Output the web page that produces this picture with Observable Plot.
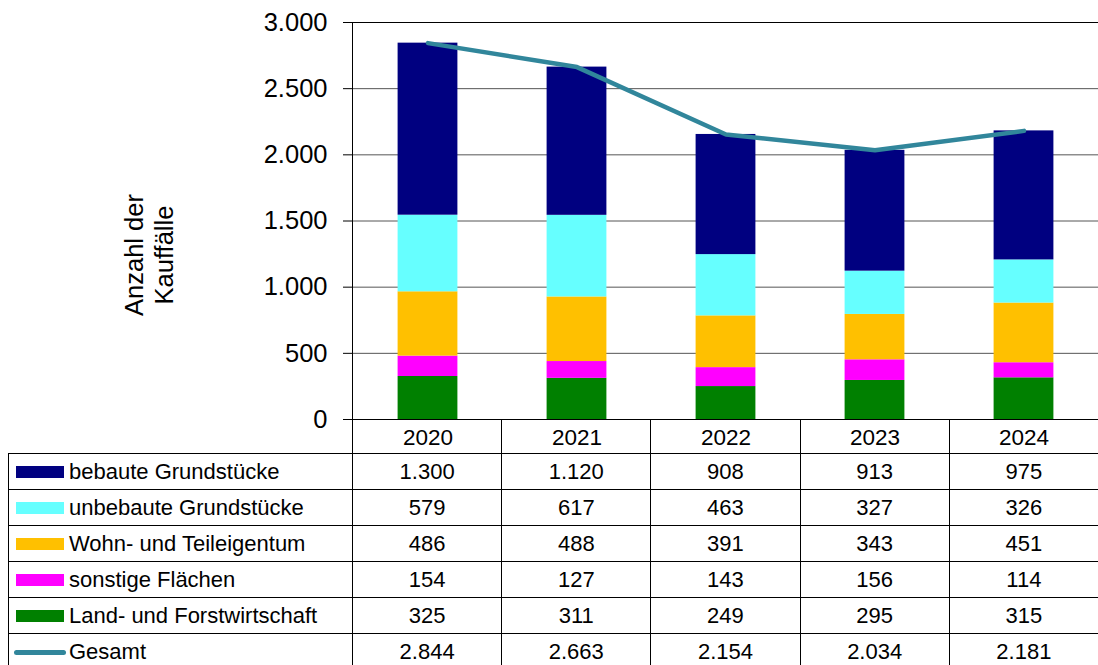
<!DOCTYPE html>
<html>
<head>
<meta charset="utf-8">
<script src="https://cdn.jsdelivr.net/npm/d3@7"></script>
<script src="https://cdn.jsdelivr.net/npm/@observablehq/plot@0.6"></script>
<style>
  html, body { margin: 0; padding: 0; background: #fff; overflow: hidden; }
  body { width: 1098px; height: 665px; position: relative; font-family: "Liberation Sans", Arial, sans-serif; }
  #chart { position: absolute; left: 0; top: 0; }
  #chart svg [aria-label^="x-axis"] text { font-size: 22.5px; }
  #chart svg [aria-label^="y-axis"] text { font-size: 25.5px; }
  table { position: absolute; left: 8px; top: 419px; border-collapse: collapse; table-layout: fixed; width: 1090px;
          font-family: "Liberation Sans", Arial, sans-serif; font-size: 22px; color: #000; }
  td { border: 1px solid #000; padding: 0; text-align: center; vertical-align: middle; white-space: nowrap; }
  tr.head td { border-top: none; height: 34px; }
  tr.head td.blank { border: none; border-bottom: 1px solid #000; border-right: 1px solid #000; }
  tr.row td { height: 35px; }
  td.lab { text-align: left; padding-left: 7px; }
  .sw { display: inline-block; width: 48px; height: 12px; margin-right: 5px; vertical-align: 1px; }
  .ln { display: inline-block; width: 52px; height: 5px; border-radius: 3px; margin-left: -2px; margin-right: 3px; vertical-align: 4px; }
</style>
</head>
<body>
<div id="chart"></div>
<script>
const years = ["2020", "2021", "2022", "2023", "2024"];
const seriesNames = ["bebaute Grundstücke", "unbebaute Grundstücke", "Wohn- und Teileigentum", "sonstige Flächen", "Land- und Forstwirtschaft"];
const seriesColors = ["#000080", "#66FFFF", "#FFC000", "#FF00FF", "#008000"];
const bebaute = [1300, 1120, 908, 913, 975];
const unbebaute = [579, 617, 463, 327, 326];
const wohn = [486, 488, 391, 343, 451];
const sonstige = [154, 127, 143, 156, 114];
const land = [325, 311, 249, 295, 315];
const gesamt = [2844, 2663, 2154, 2034, 2181];
const gesamtName = "Gesamt";
const gesamtColor = "#31869B";
const yTicks = [0, 500, 1000, 1500, 2000, 2500, 3000];
const yLabel = "Anzahl der\nKauffälle";

const seriesValues = [bebaute, unbebaute, wohn, sonstige, land];
const de = d3.formatLocale({decimal: ",", thousands: ".", grouping: [3], currency: ["", " €"]});
const fmt = de.format(",d");

// stacking order bottom -> top: Land, sonstige, Wohn, unbebaute, bebaute
const stackOrder = [4, 3, 2, 1, 0];
const barRows = [];
for (const si of stackOrder) {
  years.forEach((yr, i) => barRows.push({year: yr, series: seriesNames[si], value: seriesValues[si][i]}));
}
const lineRows = years.map((yr, i) => ({year: yr, value: gesamt[i]}));

const plot = Plot.plot({
  width: 1098,
  height: 454,
  marginLeft: 352,
  marginRight: 0,
  marginTop: 22,
  marginBottom: 35,
  style: {fontFamily: "'Liberation Sans', Arial, sans-serif", fontSize: "22px", color: "#000", background: "#fff"},
  x: {domain: years, padding: 0, tickSize: 0, tickPadding: 10, label: null},
  y: {domain: [0, 3000], ticks: yTicks, tickFormat: fmt, tickSize: 9, tickPadding: 16, label: null},
  color: {domain: seriesNames, range: seriesColors},
  marks: [
    Plot.ruleY(yTicks, {stroke: "#555", strokeWidth: 1}),
    Plot.barY(barRows, {x: "year", y: "value", fill: "series", order: null, insetLeft: 44.6, insetRight: 44.6}),
    Plot.line(lineRows, {x: "year", y: "value", stroke: gesamtColor, strokeWidth: 4.5, strokeLinecap: "round", strokeLinejoin: "round"}),
    Plot.ruleY([0], {stroke: "#000"}),
    Plot.frame({stroke: "#000"}),
    Plot.text([yLabel], {frameAnchor: "left", textAnchor: "middle", lineAnchor: "middle", dx: -204, dy: 34, rotate: -90, fontSize: 25.5, lineHeight: 1.18, fill: "#000"})
  ]
});
document.getElementById("chart").appendChild(plot);

// data table with legend keys
const table = document.createElement("table");
const cg = document.createElement("colgroup");
cg.innerHTML = `<col style="width:344px">` + years.map(() => `<col style="width:149.2px">`).join("");
table.appendChild(cg);
const tb = document.createElement("tbody");
let html = `<tr class="head"><td class="blank"></td>` + years.map(() => `<td></td>`).join("") + `</tr>`;
seriesNames.forEach((name, si) => {
  html += `<tr class="row"><td class="lab"><span class="sw" style="background:${seriesColors[si]}"></span>${name}</td>` +
    seriesValues[si].map(v => `<td>${fmt(v)}</td>`).join("") + `</tr>`;
});
html += `<tr class="row"><td class="lab"><span class="ln" style="background:${gesamtColor}"></span>${gesamtName}</td>` +
  gesamt.map(v => `<td>${fmt(v)}</td>`).join("") + `</tr>`;
tb.innerHTML = html;
table.appendChild(tb);
document.body.appendChild(table);
</script>
</body>
</html>
